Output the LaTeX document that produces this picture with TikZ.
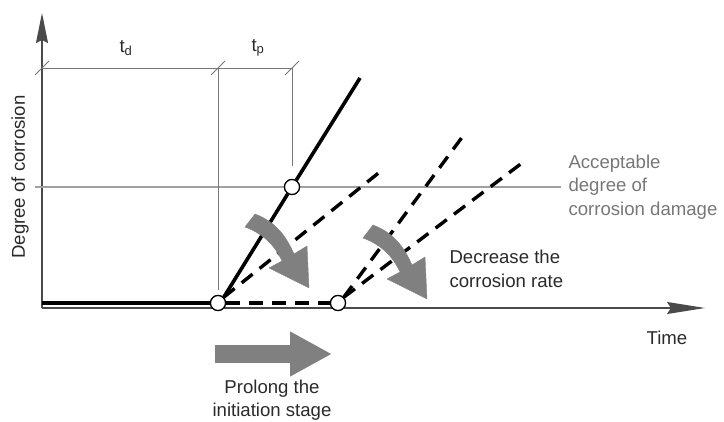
\documentclass[tikz,border=0pt]{standalone}
\usepackage{fontspec}
\setmainfont{Liberation Sans}
\usepackage{xcolor}
\usepackage{tikz}
\usetikzlibrary{
    arrows.meta,
    calc,
    positioning
}
\definecolor{axisgray}{HTML}{4A4A4A}
\definecolor{dimgray}{HTML}{777777}
\definecolor{limitgray}{HTML}{A0A0A0}
\definecolor{shadegray}{HTML}{808080}
\definecolor{textdark}{HTML}{2A2A2A}
\tikzstyle{axis}=[line width=1.4pt,draw=axisgray]
\tikzstyle{bigarrow}=[draw=shadegray,fill=shadegray]

\begin{document}
\begin{tikzpicture}[
    x=1pt, y=-1pt,
    every node/.style={font=\fontsize{18.6}{23.5}\selectfont, text=textdark},
    dimline/.style={draw=dimgray, line width=0.9pt},
    limitline/.style={draw=limitgray, line width=1.2pt},
    curve/.style={line width=3.6pt, draw=black},
    dashcurve/.style={line width=3.4pt, draw=black, dash pattern=on 14pt off 9pt},
    dot/.style={circle, draw=black, fill=white, line width=1.2pt,
        minimum size=15pt, inner sep=0pt}
]
\useasboundingbox (0,0) rectangle (724,422);

% axes
\coordinate (origin) at (42,308);
\coordinate (ytop) at (42,13);
\coordinate (xend) at (705,308);
\draw[axis,-{Stealth[length=30pt,width=12pt,inset=3pt]}] (origin) -- (ytop);
\draw[axis,-{Stealth[length=38pt,width=12pt,inset=4pt]}] (origin) -- (xend);

% acceptable level
\coordinate (lim0) at (35,187);
\coordinate (lim1) at (561,187);
\draw[limitline] (lim0) -- (lim1);

% time spans
\coordinate (d0) at (42,68);
\coordinate (d1) at (218,68);
\coordinate (d2) at (292,68);
\draw[dimline] (d0) -- (d2);
\draw[dimline] (d1) -- (218,290);
\draw[dimline] (d2) -- (292,166);
\foreach \p in {d0,d1,d2}
    \draw[dimline] ($(\p)+(-7,7)$) -- ($(\p)+(7,-7)$);
\node (td) at (126,48) {t\textsubscript{d}};
\node (tp) at (258,48) {t\textsubscript{p}};

% corrosion curves
\node[dot] (init) at (218,303) {};
\node[dot] (later) at (338,303) {};
\node[dot] (limit) at (292,187) {};
\coordinate (top) at (360,78);
\coordinate (slow) at (381,171);
\coordinate (steep) at (463,136);
\coordinate (flat) at (522,163);
\draw[curve] (origin |- init) -- (init.west);
\draw[curve] (init.north east) -- (limit);
\draw[curve] (limit) -- (top);
\draw[dashcurve] (init.east) -- (later.west);
\draw[dashcurve] (init.north east) -- (slow);
\draw[dashcurve] (later.north east) -- (steep);
\draw[dashcurve] (later.north east) -- (flat);
\node[dot] at (init) {};
\node[dot] at (later) {};
\node[dot] at (limit) {};

% measures: two bent arrows, one straight
\foreach \dx/\dy in {0/0,118/11}
    \fill[bigarrow,shift={(\dx,\dy)}]
        (245,227) .. controls (264,234) and (275,246) .. (282,261)
        -- (269,268) -- (309,288) -- (307,246) -- (294,254)
        .. controls (286,236) and (276,222) .. (255,214) -- cycle;
\coordinate (p0) at (215,354);
\coordinate (p1) at (332,354);
\draw[bigarrow,line width=18pt,-{Triangle[length=42pt,width=42pt]}] (p0) -- (p1);

% labels
\node[rotate=90] (ylabel) at (20,177) {Degree of corrosion};
\node (xlabel) at (667,338) {Time};
\node[anchor=west, align=left, text=dimgray] (accept) at (565,187)
    {Acceptable\\degree of\\corrosion damage};
\node[anchor=west, align=left] (rate) at (446,269)
    {Decrease the\\corrosion rate};
\node[align=center] (prolong) at (272,400)
    {Prolong the\\initiation stage};
\end{tikzpicture}
\end{document}
